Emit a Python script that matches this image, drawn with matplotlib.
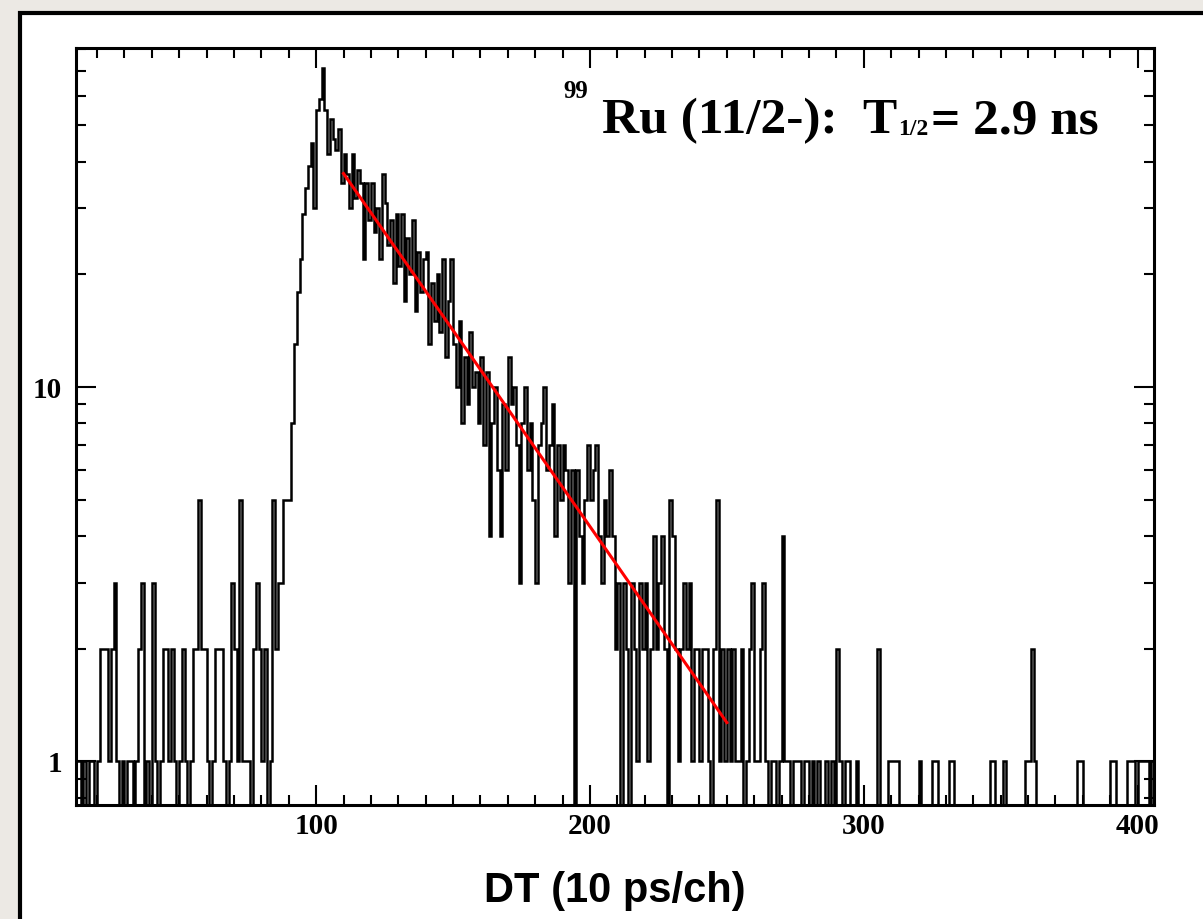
import numpy as np
import matplotlib
matplotlib.use('Agg')
import matplotlib.pyplot as plt
from matplotlib.patches import Rectangle
from matplotlib.ticker import NullFormatter

# counts per channel, starting at channel 12
first_channel = 12
counts = [1, 1, 0, 1, 0, 1, 1, 0, 1,
          2, 2, 2, 1, 2, 3, 1, 0, 1, 0,
          1, 1, 0, 1, 2, 3, 0, 1, 0, 3,
          1, 0, 1, 2, 2, 1, 2, 1, 0, 1,
          2, 1, 0, 1, 2, 2, 5, 2, 2, 1,
          0, 1, 2, 2, 2, 1, 0, 1, 3, 2,
          1, 5, 1, 1, 1, 0, 2, 3, 2, 1,
          2, 0, 1, 5, 2, 3, 3, 5, 5, 5,
          8, 13, 18, 22, 29, 34, 39, 45, 30, 55,
          59, 71, 55, 42, 52, 46, 43, 49, 35, 42,
          37, 30, 42, 32, 38, 35, 22, 35, 28, 35,
          26, 30, 22, 37, 31, 24, 28, 19, 29, 21,
          29, 17, 25, 20, 28, 16, 23, 18, 22, 23,
          13, 19, 15, 20, 14, 22, 12, 17, 22, 13,
          10, 15, 8, 12, 9, 14, 10, 11, 8, 12,
          7, 11, 4, 8, 10, 6, 4, 9, 6, 12,
          9, 10, 7, 3, 8, 10, 6, 8, 5, 3,
          7, 8, 10, 6, 7, 9, 4, 7, 5, 7,
          6, 3, 6, 0, 6, 4, 3, 5, 7, 5,
          6, 7, 4, 3, 5, 4, 6, 4, 2, 3,
          0, 3, 2, 0, 3, 2, 1, 3, 2, 3,
          1, 2, 4, 2, 3, 4, 2, 0, 5, 4,
          2, 1, 2, 3, 2, 3, 1, 2, 2, 1,
          2, 2, 1, 0, 2, 5, 1, 2, 1, 2,
          1, 2, 1, 1, 2, 0, 1, 2, 3, 1,
          1, 2, 3, 1, 0, 1, 1, 0, 1, 4,
          1, 1, 0, 1, 1, 1, 0, 1, 1, 0,
          1, 0, 1, 0, 0, 1, 0, 1, 0, 2,
          1, 0, 1, 1, 0, 0, 1, 0, 0, 0,
          0, 0, 0, 0, 2, 0, 0, 0, 1, 1,
          1, 1, 0, 0, 0, 0, 0, 0, 0, 1,
          0, 0, 0, 0, 1, 1, 0, 0, 0, 0,
          1, 1, 0, 0, 0, 0, 0, 0, 0, 0,
          0, 0, 0, 0, 0, 1, 1, 0, 0, 0,
          1, 0, 0, 0, 0, 0, 0, 0, 1, 1,
          2, 1, 0, 0, 0, 0, 0, 0, 0, 0,
          0, 0, 0, 0, 0, 0, 0, 1, 1, 0,
          0, 0, 0, 0, 0, 0, 0, 0, 0, 1,
          1, 0, 0, 0, 0, 1, 1, 1, 0, 1,
          1, 1, 1, 0, 1]
edges = np.arange(first_channel, first_channel + len(counts) + 1)

# exponential fit, end points
fit_x = [110, 250]
fit_y = [37.2, 1.27]

x_major = [100, 200, 300, 400]
y_major = [1, 10]
y_minor = [0.8, 0.9, 2, 3, 4, 5, 6, 7, 8, 9, 20, 30, 40, 50, 60, 70, 80]

W, H = 1203, 919
fig = plt.figure(figsize=(W / 100, H / 100), dpi=100, facecolor='#ECE9E4')
# white panel with black frame, running off the right and bottom edges
fig.add_artist(Rectangle((20 / W, -0.2), 1.2, 1.2 - 13 / H, transform=fig.transFigure,
                         facecolor='white', edgecolor='black', linewidth=3.0, zorder=0))

ax = fig.add_axes([76 / W, 1 - 805 / H, (1154 - 76) / W, (805 - 48) / H])
ax.set_yscale('log')
ax.stairs(counts, edges, baseline=None, color='black', linewidth=1.8)
ax.plot(fit_x, fit_y, color='red', linewidth=2.2)

ax.set_xlim(12.3, 406)
ax.set_ylim(0.765, 80.5)

serif = 'Liberation Serif'
ax.set_xticks(x_major, labels=[str(v) for v in x_major], fontfamily=serif,
              fontweight='bold', fontsize=21)
ax.set_xticks(np.arange(20, 406, 10), minor=True)
ax.set_yticks(y_major, labels=[str(v) for v in y_major], fontfamily=serif,
              fontweight='bold', fontsize=21)
ax.set_yticks(y_minor, minor=True)
ax.yaxis.set_minor_formatter(NullFormatter())
ax.tick_params(which='both', direction='in', top=True, right=True, width=1.5)
ax.tick_params(which='major', length=14.5)
ax.tick_params(which='minor', length=7.5)
ax.tick_params(axis='x', pad=6)
ax.tick_params(axis='y', pad=10)
for s in ax.spines.values():
    s.set_linewidth(2.2)

ax.set_xlabel('DT (10 ps/ch)', fontfamily='Liberation Sans', fontweight='bold',
              fontsize=30, labelpad=22)

# title text, pieces placed in pixel positions
def put(s, px, py, size):
    fig.text(px / W, 1 - py / H, s, fontsize=size, fontfamily=serif,
             fontweight='bold', va='baseline', ha='left')

put('99', 563, 98, 18)
put('Ru (11/2-):', 602, 133, 37)
put('T', 862, 133, 37)
put('1/2', 898, 135, 17)
put('= 2.9 ns', 931, 133, 37)

fig.savefig('out.png', dpi=100, facecolor=fig.get_facecolor())
